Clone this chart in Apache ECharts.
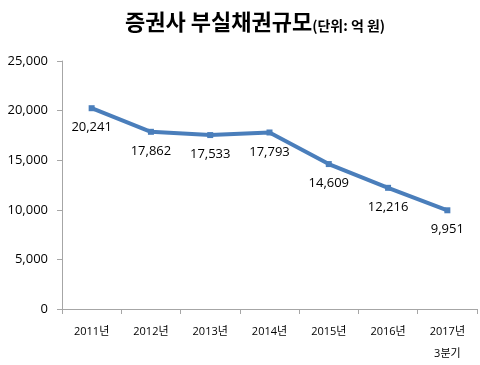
<!DOCTYPE html>
<html><head><meta charset="utf-8">
<script src="https://cdn.jsdelivr.net/npm/echarts@6/dist/echarts.min.js"></script>
<style>html,body{margin:0;padding:0;background:#fff}#c{width:480px;height:365px}</style>
</head><body><div id="c"></div>
<script>
const categories = ['2011년','2012년','2013년','2014년','2015년','2016년','2017년\n3분기'];
const values = [20241, 17862, 17533, 17793, 14609, 12216, 9951];
const yTicks = [0, 5000, 10000, 15000, 20000, 25000];
const font = '"Open Sans", "Noto Sans CJK KR", sans-serif';
const tfont = '"Noto Sans CJK KR", sans-serif';
const chart = echarts.init(document.getElementById('c'), null, {renderer:'canvas'});
chart.setOption({
  animation:false,
  title:{
    text:'{a|증권사 부실채권규모}{b|(단위: 억 원)}',
    left:120, top:6,
    textStyle:{rich:{
      a:{fontFamily:tfont,fontSize:22,fontWeight:'bold',color:'#000'},
      b:{fontFamily:tfont,fontSize:14,fontWeight:'bold',color:'#000',padding:[7,0,0,0]}
    }}
  },
  grid:{left:62,right:3,top:61,bottom:53,containLabel:false},
  xAxis:{
    type:'category', data:categories, boundaryGap:true,
    axisLine:{lineStyle:{color:'#a6a6a6',width:1}},
    axisTick:{show:true,length:5,lineStyle:{color:'#a6a6a6'},alignWithLabel:false},
    axisLabel:{fontFamily:font,fontSize:11,color:'#000',margin:12,lineHeight:22,interval:0}
  },
  yAxis:{
    type:'value', min:yTicks[0], max:yTicks[yTicks.length-1], interval:5000,
    axisLine:{show:true,lineStyle:{color:'#a6a6a6'}},
    axisTick:{show:true,length:5,lineStyle:{color:'#a6a6a6'}},
    splitLine:{show:false},
    axisLabel:{fontFamily:font,fontSize:13,color:'#000',margin:14,
      formatter:v=>v.toLocaleString('en-US')}
  },
  series:[{
    type:'line', data:values,
    lineStyle:{color:'#4a7ebb',width:4},
    itemStyle:{color:'#4a7ebb'},
    symbol:'rect', symbolSize:6,
    label:{show:true,position:'bottom',distance:10,fontFamily:font,fontSize:13,color:'#000',
      formatter:p=>p.value.toLocaleString('en-US')}
  }]
});
</script></body></html>
